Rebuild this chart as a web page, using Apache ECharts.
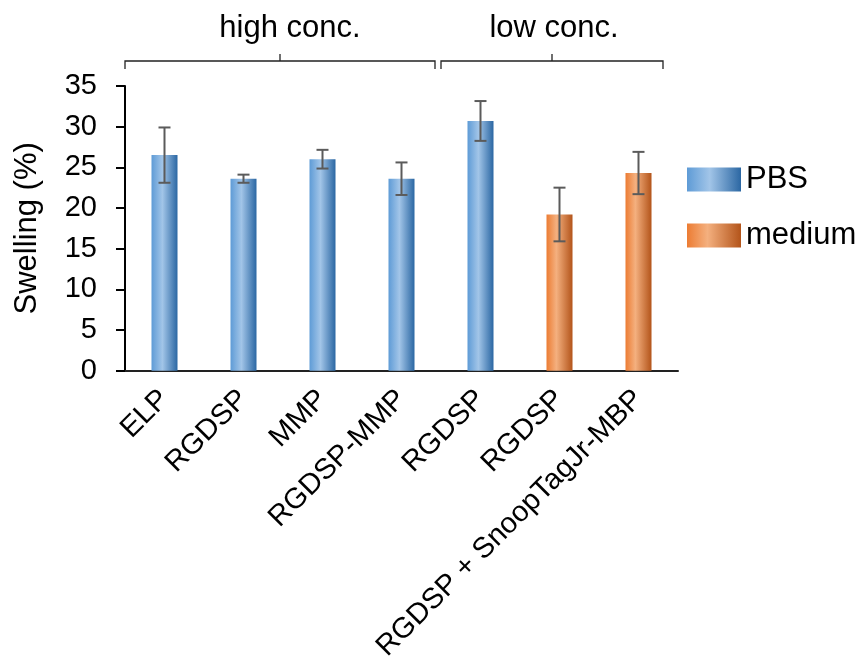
<!DOCTYPE html>
<html>
<head>
<meta charset="utf-8">
<script src="https://cdn.jsdelivr.net/npm/echarts@6/dist/echarts.min.js"></script>
<style>
  html, body { margin: 0; padding: 0; background: #ffffff; }
  #chart { width: 862px; height: 664px; }
</style>
</head>
<body>
<div id="chart"></div>
<script>
// Swelling of the hydrogels in PBS and in culture medium
const categories = ['ELP', 'RGDSP', 'MMP', 'RGDSP-MMP', 'RGDSP', 'RGDSP', 'RGDSP + SnoopTagJr-MBP'];
const pbsValues = [26.5, 23.6, 26.0, 23.6, 30.7, null, null];
const mediumValues = [null, null, null, null, null, 19.2, 24.3];
const errorValues = [3.4, 0.5, 1.15, 2.0, 2.45, 3.3, 2.6];
const yMin = 0, yMax = 35, yStep = 5;
const groupLabels = ['high conc.', 'low conc.'];
const groupFirst = [0, 4];
const groupLast = [3, 6];

const FONT = 'Liberation Sans, Arial, Helvetica, sans-serif';

const blueFill = new echarts.graphic.LinearGradient(0, 0, 1, 0, [
  { offset: 0, color: '#5e9bd6' },
  { offset: 0.42, color: '#a2c5e8' },
  { offset: 1, color: '#2b67a3' }
]);
const orangeFill = new echarts.graphic.LinearGradient(0, 0, 1, 0, [
  { offset: 0, color: '#ec7c33' },
  { offset: 0.38, color: '#f4b07f' },
  { offset: 1, color: '#b3541a' }
]);

const errorData = categories.map((c, i) => [
  i, pbsValues[i] != null ? pbsValues[i] : mediumValues[i], errorValues[i]
]);

const chart = echarts.init(document.getElementById('chart'), null, { renderer: 'canvas' });

chart.setOption({
  animation: false,
  backgroundColor: '#ffffff',
  grid: { left: 125, top: 86, right: 184, bottom: 293, containLabel: false },
  legend: {
    orient: 'vertical',
    left: 687,
    top: 164,
    padding: 0,
    itemWidth: 54,
    itemHeight: 24,
    itemGap: 25,
    icon: 'rect',
    data: ['PBS', 'medium'],
    textStyle: { fontFamily: FONT, fontSize: 31, color: '#000000', padding: [0, 0, 0, 0] }
  },
  xAxis: {
    type: 'category',
    data: categories,
    axisLine: { lineStyle: { color: '#222222', width: 2 } },
    axisTick: { show: false },
    axisLabel: {
      rotate: 45,
      interval: 0,
      margin: 24,
      fontFamily: FONT,
      fontSize: 29,
      color: '#000000'
    },
    splitLine: { show: false }
  },
  yAxis: {
    type: 'value',
    min: yMin,
    max: yMax,
    interval: yStep,
    name: 'Swelling (%)',
    nameLocation: 'middle',
    nameGap: 82,
    nameTextStyle: { fontFamily: FONT, fontSize: 31, color: '#000000' },
    axisLine: { show: true, lineStyle: { color: '#000000', width: 2 } },
    axisTick: { show: true, length: 9, lineStyle: { color: '#000000', width: 2 } },
    axisLabel: { margin: 28, fontFamily: FONT, fontSize: 29, color: '#000000' },
    splitLine: { show: false }
  },
  series: [
    {
      name: 'PBS',
      type: 'bar',
      data: pbsValues,
      barWidth: 26,
      barGap: '-100%',
      itemStyle: { color: blueFill }
    },
    {
      name: 'medium',
      type: 'bar',
      data: mediumValues,
      barWidth: 26,
      barGap: '-100%',
      itemStyle: { color: orangeFill }
    },
    {
      name: 'error',
      type: 'custom',
      data: errorData,
      z: 10,
      silent: true,
      encode: { x: 0, y: 1 },
      renderItem: function (params, api) {
        const i = api.value(0);
        const v = api.value(1);
        const e = api.value(2);
        const top = api.coord([i, v + e]);
        const bot = api.coord([i, v - e]);
        const half = 6;
        const st = { stroke: '#5b5b5b', lineWidth: 2 };
        return {
          type: 'group',
          children: [
            { type: 'line', shape: { x1: top[0], y1: top[1], x2: bot[0], y2: bot[1] }, style: st },
            { type: 'line', shape: { x1: top[0] - half, y1: top[1], x2: top[0] + half, y2: top[1] }, style: st },
            { type: 'line', shape: { x1: bot[0] - half, y1: bot[1], x2: bot[0] + half, y2: bot[1] }, style: st }
          ]
        };
      }
    }
  ]
});

// Group braces above the plot, placed from the category axis
function drawBraces() {
  const c0 = chart.convertToPixel({ xAxisIndex: 0 }, 0);
  const c1 = chart.convertToPixel({ xAxisIndex: 0 }, 1);
  const band = c1 - c0;
  const insetLeft = [0, 0];
  const insetRight = [6, 15];
  const textShift = [10, 2];
  const lineY = 61, endY = 69, tipY = 54;
  const elements = [];
  groupLabels.forEach((label, g) => {
    const xa = chart.convertToPixel({ xAxisIndex: 0 }, groupFirst[g]) - band / 2 + insetLeft[g];
    const xb = chart.convertToPixel({ xAxisIndex: 0 }, groupLast[g]) + band / 2 - insetRight[g];
    const xm = (xa + xb) / 2;
    elements.push({
      type: 'polyline',
      shape: { points: [[xa, endY], [xa, lineY], [xb, lineY], [xb, endY]] },
      style: { stroke: '#222222', lineWidth: 1.3, fill: null }
    });
    elements.push({
      type: 'line',
      shape: { x1: xm, y1: lineY, x2: xm, y2: tipY },
      style: { stroke: '#222222', lineWidth: 1.3 }
    });
    elements.push({
      type: 'text',
      x: xm + textShift[g],
      y: 28,
      style: {
        text: label,
        font: '31px ' + FONT,
        fill: '#000000',
        textAlign: 'center',
        textVerticalAlign: 'middle'
      }
    });
  });
  chart.setOption({ graphic: { elements: elements } });
}
drawBraces();
</script>
</body>
</html>
